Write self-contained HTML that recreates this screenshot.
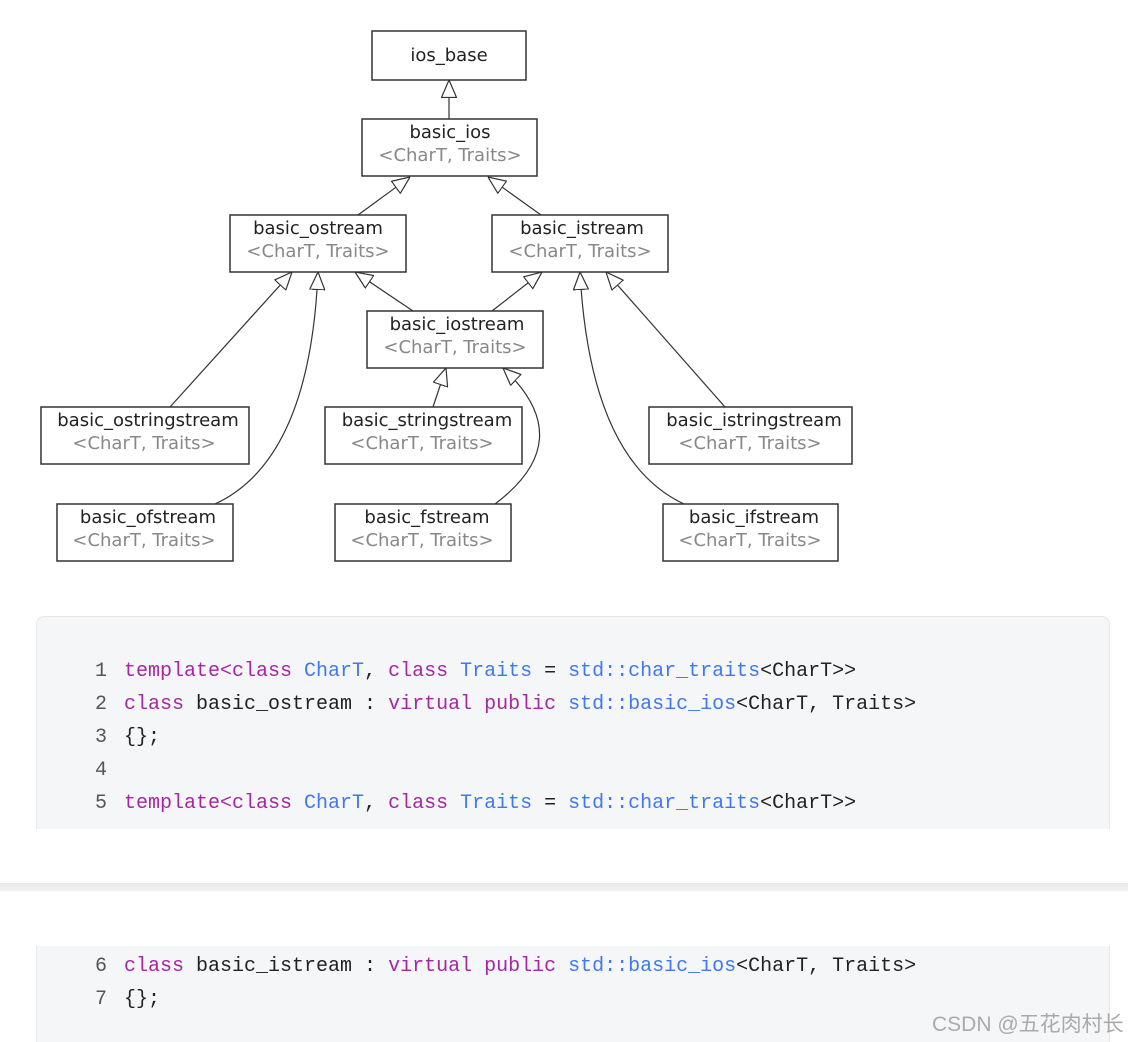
<!DOCTYPE html>
<html><head><meta charset="utf-8"><style>
body{margin:0;width:1128px;height:1042px;background:#fff;position:relative;overflow:hidden;font-family:"DejaVu Sans","Liberation Sans",sans-serif}
.code{position:absolute;left:36px;width:1074px;background:#f5f6f8;border:1px solid #e6e8eb;box-sizing:border-box;font-family:"Liberation Mono",monospace;font-size:20px;color:#222}
.ln{position:absolute;left:0;height:33px;line-height:33px;white-space:pre}
.n{display:inline-block;width:70px;text-align:right;color:#555;margin-right:17px}
.k{color:#a626a4}.b{color:#4078f2}
</style></head><body>
<svg width="1128" height="600" style="position:absolute;left:0;top:0" font-family="DejaVu Sans, Liberation Sans, sans-serif" font-size="18">
<defs><marker id="a" viewBox="0 0 18 16" refX="18" refY="8" markerWidth="18" markerHeight="16" markerUnits="userSpaceOnUse" orient="auto"><path d="M0.5,0.5 L18,8 L0.5,15.5 Z" fill="#fff" stroke="#333" stroke-width="1.2"/></marker></defs>
<g fill="none" stroke="#333" stroke-width="1.2" marker-end="url(#a)">
<path d="M449,119 L449,80"/>
<path d="M358,215 L410,177"/>
<path d="M541,215 L488,177"/>
<path d="M170,407 L292,272"/>
<path d="M215,504 Q310,460 318,272"/>
<path d="M413,311 L355,272"/>
<path d="M492,311 L542,272"/>
<path d="M433,407 L446,368"/>
<path d="M495,504 Q580,440 503,368"/>
<path d="M725,407 L606,272"/>
<path d="M684,504 Q590,460 580,272"/>
</g>
<g fill="#fff" stroke="#333" stroke-width="1.5">
<rect x="372" y="31" width="154" height="49"/>
<rect x="362" y="119" width="175" height="57"/>
<rect x="230" y="215" width="176" height="57"/>
<rect x="492" y="215" width="176" height="57"/>
<rect x="367" y="311" width="176" height="57"/>
<rect x="41" y="407" width="208" height="57"/>
<rect x="325" y="407" width="197" height="57"/>
<rect x="649" y="407" width="203" height="57"/>
<rect x="57" y="504" width="176" height="57"/>
<rect x="335" y="504" width="176" height="57"/>
<rect x="663" y="504" width="175" height="57"/>
</g>
<g text-anchor="middle" fill="#222">
<text x="449" y="61">ios_base</text>
<text x="450" y="138">basic_ios</text>
<text x="318" y="234">basic_ostream</text>
<text x="582" y="234">basic_istream</text>
<text x="457" y="330">basic_iostream</text>
<text x="148" y="426">basic_ostringstream</text>
<text x="427" y="426">basic_stringstream</text>
<text x="754" y="426">basic_istringstream</text>
<text x="148" y="523">basic_ofstream</text>
<text x="427" y="523">basic_fstream</text>
<text x="754" y="523">basic_ifstream</text>
</g>
<g text-anchor="middle" fill="#888">
<text x="450" y="161">&lt;CharT, Traits&gt;</text>
<text x="318" y="257">&lt;CharT, Traits&gt;</text>
<text x="580" y="257">&lt;CharT, Traits&gt;</text>
<text x="455" y="353">&lt;CharT, Traits&gt;</text>
<text x="144" y="449">&lt;CharT, Traits&gt;</text>
<text x="422" y="449">&lt;CharT, Traits&gt;</text>
<text x="750" y="449">&lt;CharT, Traits&gt;</text>
<text x="144" y="546">&lt;CharT, Traits&gt;</text>
<text x="422" y="546">&lt;CharT, Traits&gt;</text>
<text x="750" y="546">&lt;CharT, Traits&gt;</text>
</g>
</svg>
<div class="code" style="top:616px;height:213px;border-radius:8px 8px 0 0;border-bottom:none">
<div class="ln" style="top:38px"><span class="n">1</span><span class="k">template&lt;class</span> <span class="b">CharT</span>, <span class="k">class</span> <span class="b">Traits</span> = <span class="b">std::char_traits</span>&lt;CharT&gt;&gt;</div>
<div class="ln" style="top:71px"><span class="n">2</span><span class="k">class</span> basic_ostream : <span class="k">virtual public</span> <span class="b">std::basic_ios</span>&lt;CharT, Traits&gt;</div>
<div class="ln" style="top:104px"><span class="n">3</span>{};</div>
<div class="ln" style="top:137px"><span class="n">4</span></div>
<div class="ln" style="top:170px"><span class="n">5</span><span class="k">template&lt;class</span> <span class="b">CharT</span>, <span class="k">class</span> <span class="b">Traits</span> = <span class="b">std::char_traits</span>&lt;CharT&gt;&gt;</div>
</div>
<div style="position:absolute;left:0;top:883px;width:1128px;height:8px;background:linear-gradient(#e8e8e8,#f2f2f2)"></div>
<div class="code" style="top:946px;height:96px;border-top:none;border-bottom:none">
<div class="ln" style="top:4px"><span class="n">6</span><span class="k">class</span> basic_istream : <span class="k">virtual public</span> <span class="b">std::basic_ios</span>&lt;CharT, Traits&gt;</div>
<div class="ln" style="top:37px"><span class="n">7</span>{};</div>
</div>
<div style="position:absolute;left:932px;top:1008px;font-size:21px;color:#aaa;font-family:'Liberation Sans','Noto Sans CJK SC',sans-serif">CSDN @五花肉村长</div>
</body></html>
